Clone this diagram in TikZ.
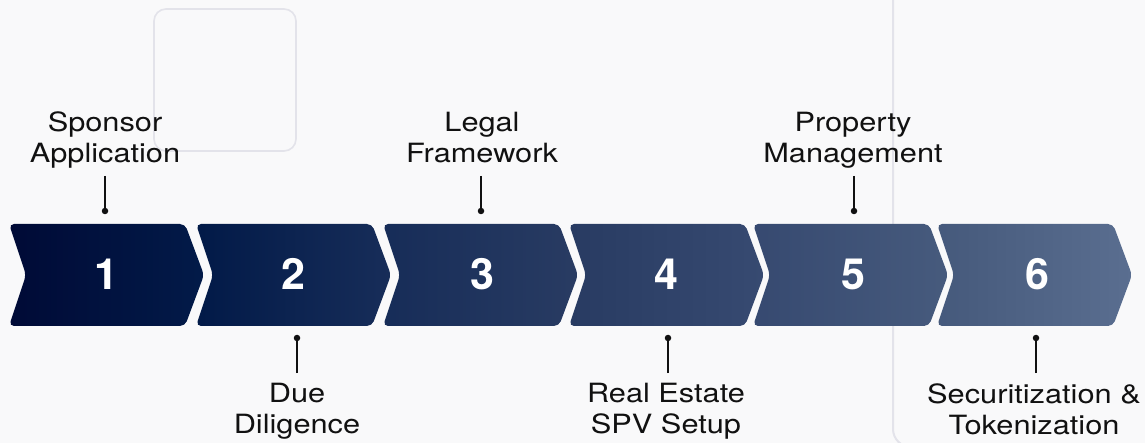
\documentclass[tikz,border=0pt]{standalone}
\usepackage{fontspec}
\setmainfont[FakeStretch=1.16]{TeX Gyre Heros}
\newfontfamily\numfont{TeX Gyre Heros}
\definecolor{paper}{HTML}{F9F9FA}
\definecolor{ghostline}{HTML}{E3E3EA}
\definecolor{ink}{HTML}{111111}
\definecolor{bandA}{HTML}{000A36}
\definecolor{bandB}{HTML}{021A48}
\definecolor{bandC}{HTML}{162C58}
\definecolor{bandD}{HTML}{283B62}
\definecolor{bandE}{HTML}{364970}
\definecolor{bandF}{HTML}{485C7E}
\definecolor{bandG}{HTML}{5A6E90}
% left-to-right gradient of the step band (path box maps to 25bp..75bp)
\pgfdeclarehorizontalshading{bandshade}{100bp}{%
  color(0bp)=(bandA); color(25bp)=(bandA); color(33.5bp)=(bandB);
  color(41.5bp)=(bandC); color(50bp)=(bandD); color(58bp)=(bandE);
  color(67.5bp)=(bandF); color(75bp)=(bandG); color(100bp)=(bandG)}
\begin{document}
\begin{tikzpicture}[x=1pt,y=-1pt,
  steplabel/.style={font=\fontsize{26.5}{31}\selectfont, align=center, inner sep=0pt, anchor=base, text=ink},
  stepnum/.style={font=\numfont\bfseries\fontsize{43}{43}\selectfont, text=white, inner sep=0pt},
  pin/.style={circle, fill=ink, inner sep=0pt, minimum size=6.5pt},
  leader/.style={draw=ink, line width=1.4pt},
  ghost/.style={draw=ghostline, line width=1.6pt}]

% page and its fixed size
\fill[paper] (0,0) rectangle (1145,443);
\useasboundingbox (0,0) rectangle (1145,443);

% faint background frames
\begin{scope}
  \clip (0,0) rectangle (1145,443);
  \draw[ghost, rounded corners=12pt] (154,9) rectangle (296,151);
  \draw[ghost, line width=2pt, rounded corners=18pt] (893,-40) rectangle (1200,447);
\end{scope}

% the six chevrons, one continuous gradient across the band
\shade[shading=bandshade, rounded corners=5pt]
  \foreach \x in {9,196,383,569,753,937} {
    ({\x+17},275) -- (\x,224) -- ({\x+176},224) -- ({\x+195},275) -- ({\x+176},326) -- (\x,326) -- cycle
  };

% step numbers
\node[stepnum] (n1) at (106,274) {1};
\node[stepnum] (n2) at (293,274) {2};
\node[stepnum] (n3) at (482,274) {3};
\node[stepnum] (n4) at (666,274) {4};
\node[stepnum] (n5) at (853,274) {5};
\node[stepnum] (n6) at (1037,274) {6};

% labels above the band (anchored at the last line's baseline)
\node[steplabel] (l1) at (105,163) {Sponsor\\Application};
\node[steplabel] (l3) at (482,163) {Legal\\Framework};
\node[steplabel] (l5) at (853,163) {Property\\Management};
% labels below the band
\node[steplabel] (l2) at (297,433) {Due\\Diligence};
\node[steplabel] (l4) at (666,433) {Real Estate\\SPV Setup};
\node[steplabel] (l6) at (1034,434) {Securitization \&\\Tokenization};

% pins on the band edges
\node[pin] (d1) at (105,211) {};
\node[pin] (d3) at (481,211) {};
\node[pin] (d5) at (854,211) {};
\node[pin] (d2) at (297,338) {};
\node[pin] (d4) at (668,338) {};
\node[pin] (d6) at (1036,338) {};

% leader ends next to the labels
\coordinate (e1) at (105,176);
\coordinate (e3) at (481,176);
\coordinate (e5) at (854,176);
\coordinate (e2) at (297,373);
\coordinate (e4) at (668,373);
\coordinate (e6) at (1036,373);

\foreach \i in {1,...,6} \draw[leader] (e\i) -- (d\i.center);
\end{tikzpicture}
\end{document}
